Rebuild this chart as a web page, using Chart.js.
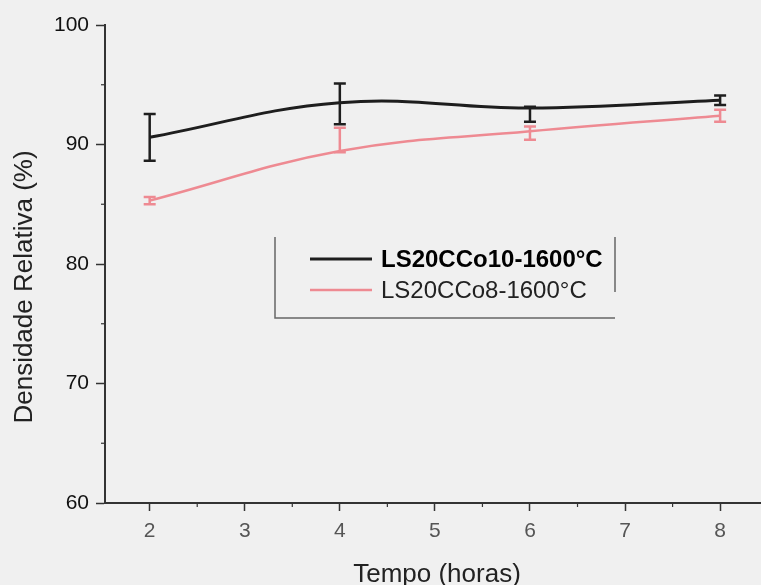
<!DOCTYPE html>
<html>
<head>
<meta charset="utf-8">
<script src="https://cdn.jsdelivr.net/npm/chart.js@4"></script>
<style>
  html, body { margin: 0; padding: 0; background: #f0f0f0; }
  #wrap { width: 761px; height: 585px; position: relative; }
</style>
</head>
<body>
<div id="wrap"><canvas id="densidade"></canvas></div>
<script>
// dados
const tempo = [2, 4, 6, 8];
const dens10 = [90.6, 93.5, 93.05, 93.7];
const err10Up = [1.95, 1.6, 0.1, 0.4];
const err10Down = [1.95, 1.8, 1.15, 0.4];
const dens8 = [85.3, 89.45, 91.1, 92.4];
const err8Up = [0.3, 1.95, 0.4, 0.5];
const err8Down = [0.3, 0.1, 0.7, 0.5];
const xTicks = [2, 3, 4, 5, 6, 7, 8];
const xMinor = [2.5, 3.5, 4.5, 5.5, 6.5, 7.5];
const yTicks = [60, 70, 80, 90, 100];
const yMinor = [65, 75, 85, 95];
const labels = ['LS20CCo10-1600°C', 'LS20CCo8-1600°C'];

const FONT = "'Liberation Sans', Arial, sans-serif";
const black = '#1e1e1e';
const pink = '#ee8a92';

const errBars = {
  id: 'errBars',
  afterDatasetsDraw(chart) {
    const ctx = chart.ctx;
    const xs = chart.scales.x, ys = chart.scales.y;
    chart.data.datasets.forEach(ds => {
      ctx.save();
      ctx.strokeStyle = ds.borderColor;
      ctx.lineWidth = 2.5;
      ds.data.forEach((p, i) => {
        const px = xs.getPixelForValue(p.x);
        const top = ys.getPixelForValue(p.y + ds.errUp[i]);
        const bot = ys.getPixelForValue(p.y - ds.errDown[i]);
        ctx.beginPath();
        ctx.moveTo(px, top); ctx.lineTo(px, bot);
        ctx.moveTo(px - 6, top); ctx.lineTo(px + 6, top);
        ctx.moveTo(px - 6, bot); ctx.lineTo(px + 6, bot);
        ctx.stroke();
      });
      ctx.restore();
    });
  }
};

const extras = {
  id: 'extras',
  afterDraw(chart) {
    const ctx = chart.ctx;
    const xs = chart.scales.x, ys = chart.scales.y;
    const area = chart.chartArea;
    ctx.save();
    // minor ticks
    ctx.strokeStyle = '#333';
    ctx.lineWidth = 1.2;
    xMinor.forEach(v => {
      const px = xs.getPixelForValue(v);
      ctx.beginPath(); ctx.moveTo(px, area.bottom); ctx.lineTo(px, area.bottom + 4); ctx.stroke();
    });
    yMinor.forEach(v => {
      const py = ys.getPixelForValue(v);
      ctx.beginPath(); ctx.moveTo(area.left - 4, py); ctx.lineTo(area.left, py); ctx.stroke();
    });

    // axis titles
    ctx.fillStyle = '#222';
    ctx.font = '26px ' + FONT;
    ctx.textAlign = 'center';
    ctx.textBaseline = 'alphabetic';
    ctx.fillText('Tempo (horas)', 437, 582);
    ctx.save();
    ctx.translate(32, 287);
    ctx.rotate(-Math.PI / 2);
    ctx.fillText('Densidade Relativa (%)', 0, 0);
    ctx.restore();

    // legend box (open on top)
    ctx.strokeStyle = '#666';
    ctx.lineWidth = 1.5;
    ctx.beginPath();
    ctx.moveTo(275, 237); ctx.lineTo(275, 318); ctx.lineTo(615, 318);
    ctx.moveTo(615, 237); ctx.lineTo(615, 292);
    ctx.stroke();

    const rows = [259, 290];
    chart.data.datasets.forEach((ds, i) => {
      const y = rows[i];
      ctx.strokeStyle = ds.borderColor;
      ctx.lineWidth = ds.borderWidth;
      ctx.beginPath(); ctx.moveTo(310, y); ctx.lineTo(372, y); ctx.stroke();
      ctx.fillStyle = i === 0 ? '#000' : '#222';
      ctx.font = (i === 0 ? 'bold ' : '') + '24px ' + FONT;
      ctx.textAlign = 'left';
      ctx.textBaseline = 'middle';
      ctx.fillText(ds.label, 381, y + 1);
    });
    ctx.restore();
  }
};

new Chart(document.getElementById('densidade'), {
  type: 'line',
  data: {
    datasets: [
      {
        label: labels[0],
        data: tempo.map((t, i) => ({ x: t, y: dens10[i] })),
        errUp: err10Up,
        errDown: err10Down,
        borderColor: black,
        borderWidth: 3,
        tension: 0.4,
        pointRadius: 0
      },
      {
        label: labels[1],
        data: tempo.map((t, i) => ({ x: t, y: dens8[i] })),
        errUp: err8Up,
        errDown: err8Down,
        borderColor: pink,
        borderWidth: 2.5,
        tension: 0.4,
        pointRadius: 0
      }
    ]
  },
  options: {
    responsive: true,
    maintainAspectRatio: false,
    animation: false,
    layout: { padding: { top: 25, right: 0, left: 0, bottom: 0 } },
    plugins: {
      legend: { display: false },
      tooltip: { enabled: false }
    },
    scales: {
      x: {
        type: 'linear',
        min: 1.53,
        max: 8.43,
        afterBuildTicks: s => { s.ticks = xTicks.map(v => ({ value: v })); },
        afterFit: s => { s.height = 82; },
        border: { display: true, color: '#333', width: 2 },
        grid: { drawOnChartArea: false, tickLength: 8, tickColor: '#333', tickWidth: 1.5 },
        ticks: { color: '#555', padding: 8, font: { size: 21, family: FONT } }
      },
      y: {
        min: 60,
        max: 100,
        afterBuildTicks: s => { s.ticks = yTicks.map(v => ({ value: v })); },
        afterFit: s => { s.width = 105; },
        border: { display: true, color: '#333', width: 2 },
        grid: { drawOnChartArea: false, tickLength: 9, tickColor: '#333', tickWidth: 1.5 },
        ticks: { color: '#111', padding: 7, font: { size: 21, family: FONT } }
      }
    }
  },
  plugins: [errBars, extras]
});
</script>
</body>
</html>
